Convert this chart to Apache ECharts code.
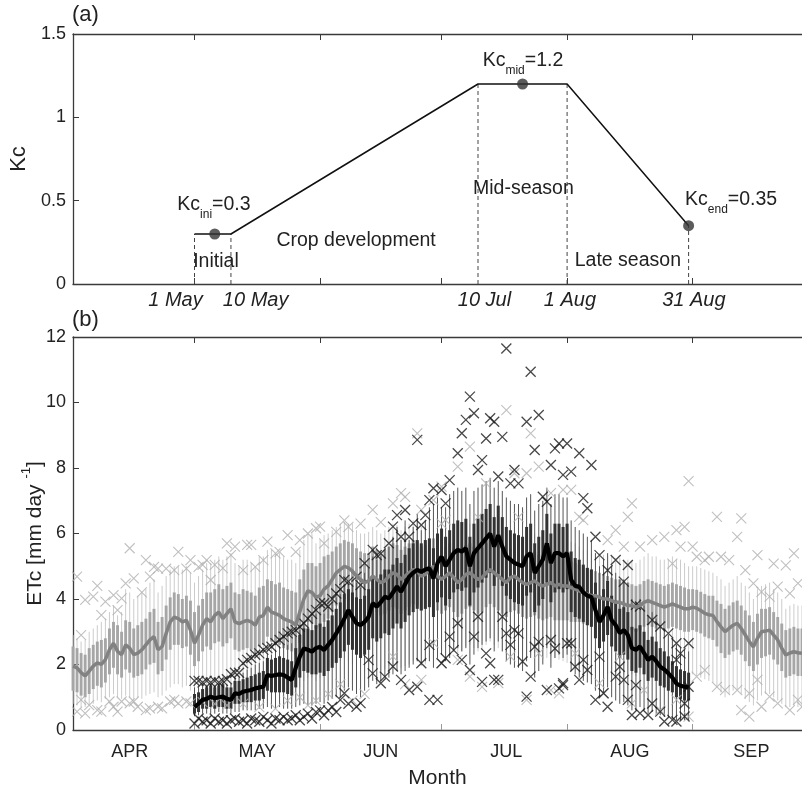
<!DOCTYPE html>
<html><head><meta charset="utf-8">
<script src="https://cdn.jsdelivr.net/npm/echarts@6/dist/echarts.min.js"></script>
<style>html,body{margin:0;padding:0;background:#fff}#c{width:802px;height:791px}</style>
</head><body><div id="c"></div>
<script>
// ---------- Panel (a): crop coefficient curve (x = days since 1 Apr) ----------
const kcDays = [30, 39, 100, 122, 152];
const kcVals = [0.3, 0.3, 1.2, 1.2, 0.35];
const kcDotDays = [35, 111, 152];
const kcDotVals = [0.3, 1.2, 0.35];
const kcSubs = ['ini', 'mid', 'end'];
const kcSubVals = ['0.3', '1.2', '0.35'];
const stageNames = ['Initial', 'Crop development', 'Mid-season', 'Late season'];
const dateNames = ['1 May', '10 May', '10 Jul', '1 Aug', '31 Aug'];

// ---------- Axis ticks ----------
const monthStartDays = [30, 61, 91, 122, 153];
const monthMidDays = [14, 45.5, 76, 107, 137.5, 167.5];
const monthNames = ['APR', 'MAY', 'JUN', 'JUL', 'AUG', 'SEP'];

// ---------- Panel (b): grey series (reference), days 0..180 ----------
const gStart = 0;
const gMed = [1.95,1.9,1.75,1.65,1.8,1.95,2.05,2.0,2.15,2.45,
 2.65,2.4,2.3,2.6,2.5,2.3,2.35,2.45,2.6,2.75,
 2.85,2.45,2.55,2.95,3.3,3.45,3.4,3.3,3.35,3.05,
 2.65,2.9,3.2,3.4,3.3,3.5,3.6,3.4,3.55,3.7,
 3.3,3.25,3.3,3.35,3.3,3.2,3.45,3.5,3.75,3.6,
 3.55,3.5,3.4,3.35,3.3,3.2,3.6,4.0,4.25,4.2,
 4.05,4.1,4.3,4.4,4.6,4.8,4.9,5.0,4.95,4.85,
 4.7,4.6,4.5,4.55,4.7,4.6,4.5,4.55,4.7,4.8,
 4.75,4.6,4.7,4.8,4.9,4.85,4.7,4.75,4.9,5.0,
 4.7,4.6,4.7,4.8,4.65,4.5,4.6,4.75,4.8,4.7,
 4.6,4.65,4.8,4.9,4.8,4.7,4.6,4.5,4.65,4.7,
 4.6,4.5,4.45,4.5,4.55,4.45,4.4,4.45,4.5,4.4,
 4.45,4.4,4.4,4.35,4.3,4.25,4.2,4.15,4.1,4.1,
 4.05,4.0,4.0,3.95,3.9,3.9,3.85,3.8,3.8,3.75,
 3.8,3.9,3.95,3.9,3.85,3.8,3.75,3.8,3.85,3.8,
 3.75,3.7,3.7,3.75,3.72,3.65,3.56,3.52,3.5,3.31,
 3.15,3.0,3.1,3.2,3.26,3.1,2.9,2.7,2.54,2.8,
 3.0,3.02,3.05,2.9,2.75,2.5,2.29,2.35,2.39,2.36,
 2.34];
const gQ3 = [2.55,2.5,2.35,2.3,2.5,2.6,2.7,2.75,2.8,3.1,
 3.3,3.2,3.0,3.35,3.3,3.1,3.2,3.3,3.4,3.6,
 3.7,3.3,3.45,3.8,4.05,4.2,4.15,4.0,4.1,3.95,
 3.6,3.8,4.0,4.2,4.2,4.3,4.45,4.3,4.4,4.5,
 4.2,4.15,4.3,4.25,4.2,4.1,4.35,4.4,4.6,4.55,
 4.45,4.5,4.35,4.3,4.25,4.2,4.6,4.9,5.1,5.1,
 5.0,5.1,5.3,5.35,5.45,5.6,5.7,5.8,5.75,5.7,
 5.55,5.45,5.4,5.4,5.6,5.5,5.4,5.5,5.6,5.7,
 5.65,5.5,5.6,5.7,5.8,5.75,5.6,5.65,5.8,5.85,
 5.6,5.5,5.6,5.7,5.55,5.4,5.5,5.65,5.7,5.6,
 5.5,5.55,5.7,5.8,5.7,5.6,5.5,5.4,5.55,5.6,
 5.5,5.4,5.35,5.4,5.45,5.35,5.3,5.35,5.4,5.3,
 5.3,5.25,5.2,5.15,5.1,5.05,5.0,4.95,4.9,4.85,
 4.8,4.75,4.7,4.65,4.6,4.6,4.55,4.5,4.45,4.4,
 4.45,4.55,4.6,4.55,4.5,4.45,4.4,4.45,4.5,4.45,
 4.4,4.35,4.3,4.3,4.28,4.22,4.15,4.1,4.1,3.95,
 3.85,3.7,3.8,3.9,3.95,3.8,3.65,3.5,3.3,3.55,
 3.7,3.7,3.75,3.6,3.45,3.25,3.05,3.1,3.15,3.1,
 3.1];
const gQ1 = [1.2,1.15,1.05,1.0,1.1,1.25,1.35,1.3,1.45,1.7,
 1.9,1.7,1.6,1.85,1.75,1.6,1.65,1.7,1.85,2.0,
 2.05,1.7,1.8,2.15,2.45,2.6,2.6,2.5,2.55,2.3,
 1.95,2.1,2.4,2.55,2.45,2.65,2.7,2.55,2.65,2.8,
 2.45,2.4,2.45,2.5,2.45,2.35,2.55,2.6,2.85,2.7,
 2.65,2.6,2.5,2.45,2.4,2.3,2.65,3.05,3.3,3.25,
 3.1,3.15,3.3,3.4,3.6,3.8,3.9,4.0,3.95,3.85,
 3.7,3.6,3.5,3.55,3.7,3.6,3.5,3.55,3.65,3.75,
 3.7,3.55,3.65,3.75,3.85,3.8,3.65,3.7,3.85,3.95,
 3.65,3.55,3.65,3.75,3.6,3.45,3.55,3.7,3.75,3.65,
 3.55,3.6,3.75,3.85,3.75,3.65,3.55,3.45,3.6,3.65,
 3.55,3.45,3.4,3.45,3.5,3.4,3.35,3.4,3.45,3.35,
 3.35,3.35,3.35,3.3,3.3,3.3,3.25,3.2,3.2,3.2,
 3.15,3.15,3.15,3.1,3.1,3.1,3.05,3.05,3.05,3.0,
 3.05,3.15,3.2,3.15,3.1,3.1,3.05,3.1,3.15,3.1,
 3.05,3.0,3.0,3.05,3.0,2.95,2.85,2.8,2.75,2.55,
 2.35,2.2,2.3,2.4,2.45,2.3,2.1,1.95,1.8,2.0,
 2.2,2.25,2.3,2.15,2.0,1.8,1.6,1.65,1.7,1.65,
 1.65];
const gHi = [2.9,2.8,2.7,2.75,3.0,3.1,3.2,3.3,3.4,3.6,
 3.8,3.5,3.6,4.3,4.2,4.0,4.1,4.2,4.3,4.5,
 4.6,4.2,4.4,4.7,4.9,5.0,5.0,4.9,5.0,4.8,
 4.5,4.7,4.9,5.1,5.1,5.2,5.3,5.2,5.3,5.4,
 5.1,5.0,5.2,5.2,5.1,5.0,5.3,5.3,5.5,5.5,
 5.4,5.4,5.3,5.2,5.2,5.1,5.5,5.8,6.0,6.0,
 5.7,5.8,5.95,6.0,6.1,6.2,6.3,6.35,6.3,6.3,
 6.1,6.0,6.0,6.05,6.2,6.1,6.0,6.1,6.2,6.3,
 6.25,6.1,6.2,6.3,6.4,6.35,6.2,6.3,6.4,6.5,
 6.2,6.1,6.2,6.3,6.15,6.0,6.1,6.25,6.3,6.2,
 6.1,6.15,6.3,6.4,6.3,6.2,6.1,6.0,6.15,6.2,
 6.1,6.0,5.9,5.95,6.0,5.9,5.8,5.85,5.9,5.8,
 5.9,5.85,5.8,5.75,5.7,5.6,5.5,5.5,5.4,5.4,
 5.4,5.35,5.3,5.3,5.25,5.25,5.2,5.2,5.15,5.1,
 5.2,5.3,5.4,5.3,5.3,5.2,5.2,5.2,5.3,5.2,
 5.2,5.1,5.0,5.0,5.0,4.95,4.9,4.85,4.8,4.7,
 4.6,4.4,4.5,4.6,4.7,4.5,4.4,4.2,4.0,4.3,
 4.4,4.45,4.5,4.3,4.2,4.0,3.7,3.8,3.85,3.8,
 3.8];
const gLo = [0.8,0.75,0.7,0.7,0.75,0.8,0.9,0.85,0.95,1.0,
 1.1,1.0,0.95,1.05,1.0,0.95,1.0,0.95,1.05,1.1,
 1.15,1.0,1.05,1.2,1.3,1.4,1.4,1.3,1.35,1.2,
 0.9,1.0,1.1,1.2,1.15,1.25,1.3,1.2,1.25,1.3,
 1.1,1.1,1.15,1.2,1.15,1.1,1.2,1.25,1.35,1.3,
 1.25,1.2,1.2,1.15,1.1,1.1,1.3,1.5,1.6,1.6,
 1.5,1.6,1.7,1.8,1.9,2.0,2.1,2.2,2.1,2.0,
 1.9,1.9,1.8,1.85,1.95,1.9,1.8,1.85,1.95,2.0,
 2.0,1.9,1.95,2.0,2.1,2.1,1.95,2.0,2.1,2.2,
 2.5,2.4,2.5,2.6,2.5,2.35,2.4,2.55,2.6,2.5,
 2.4,2.45,2.6,2.7,2.6,2.5,2.4,2.3,2.45,2.5,
 2.4,2.35,2.25,2.3,2.35,2.25,2.2,2.2,2.25,2.2,
 2.15,2.1,2.05,2.0,1.95,1.9,1.85,1.8,1.8,1.75,
 1.7,1.7,1.7,1.7,1.7,1.7,1.7,1.7,1.7,1.65,
 1.7,1.8,1.85,1.8,1.75,1.75,1.7,1.75,1.8,1.75,
 1.7,1.65,1.65,1.7,1.65,1.6,1.55,1.5,1.45,1.3,
 1.15,1.0,1.1,1.2,1.25,1.1,0.95,0.85,0.75,0.9,
 1.05,1.1,1.1,1.0,0.9,0.8,0.7,0.7,0.75,0.7,
 0.7];
const gOutliers = [[1,4.68],[2,2.9],[3,3.97],[5,4.07],[6,4.4],[7,3.51],[8,3.92],[10,4.12],[11,3.66],[12,4.02],[13,4.48],[14,5.55],[15,4.63],[17,4.2],[18,5.19],[19,4.68],[20,4.98],[21,4.93],[23,4.93],[25,4.88],[26,5.44],[28,4.93],[29,5.19],[31,4.98],
 [1,0.56],[2,0.92],[3,0.51],[4,0.76],[6,0.61],[7,0.56],[9,0.87],[10,0.71],[11,0.56],[12,0.87],[14,0.81],[15,0.87],[16,0.71],[18,0.61],[19,0.66],[21,0.71],[22,0.66],[24,0.87],[25,0.92],[26,0.81],[28,0.87],[29,0.81],
 [32,5.04],[33,5.19],[34,4.58],[35,5.04],[37,4.94],[38,5.7],[39,5.34],[40,5.6],[42,4.88],[43,5.65],[44,5.65],[45,4.98],[47,5.19],[48,5.75],[50,5.39],[51,5.44],[53,5.95],[55,5.44],[56,5.8],[58,6.0],[60,6.16],[61,6.21],
 [32,0.85],[35,0.8],[38,0.75],[42,0.8],[46,0.7],[50,0.65],[53,0.9],[56,1.0],[58,0.75],[60,0.9],[63,1.1],[66,1.4],
 [62,5.7],[65,6.05],[67,6.4],[68,6.2],[71,6.3],[74,6.72],[76,6.35],[79,6.92],[81,7.23],[82,7.12],[85,9.06],[86,6.72],[89,7.02],[91,6.3],
 [69,0.9],[72,1.1],[79,2.24],[82,1.4],[86,1.53],[89,2.65],
 [91,7.43],[92,6.41],[95,8.04],[98,8.65],[100,6.5],[102,7.53],[107,9.77],[109,7.84],[110,6.5],[112,7.84],[113,9.06],[115,8.04],[118,7.23],[121,7.33],
 [91,2.04],[95,2.14],[98,1.63],[101,1.32],[105,1.43],[108,2.24],[112,0.92],[115,2.34],[118,1.22],[120,1.12],
 [123,7.33],[125,6.51],[126,6.41],[132,5.8],[134,6.1],[136,5.6],[137,6.51],[138,6.92],[140,5.6],[143,5.8],[146,5.9],[148,5.08],[149,6.1],[150,5.6],[151,6.2],[152,7.6],
 [124,2.34],[130,1.43],[131,1.12],[135,2.24],[138,0.81],[141,1.22],[145,0.61],[149,0.92],[152,0.41],
 [153,5.6],[154,5.29],[156,5.19],[157,5.29],[159,6.51],[160,5.29],[162,5.19],[164,5.9],[165,6.46],[166,4.88],[168,4.48],[169,5.34],[170,4.22],[172,4.07],[173,5.08],[174,4.38],[176,5.03],[177,4.17],[178,5.39],[179,4.48],
 [154,1.63],[156,1.83],[159,1.32],[161,1.22],[164,1.22],[165,0.61],[167,1.12],[169,1.53],[170,0.71],[172,1.02],[174,0.81],[177,0.61],[179,0.92],[180,0.71],[167,0.41]];

// ---------- Panel (b): black series (crop ETc), days 30..152 ----------
const bStart = 30;
const bMed = [0.7,0.8,0.92,0.95,1.02,0.97,1.0,1.02,0.95,0.92,
 1.12,1.1,1.17,1.2,1.22,1.27,1.3,1.32,1.68,1.65,
 1.68,1.7,1.68,1.6,1.53,1.9,2.24,2.49,2.45,2.39,
 2.5,2.54,2.44,2.6,2.75,2.95,3.15,3.4,3.66,3.45,
 3.26,3.2,3.3,3.46,3.87,3.77,3.9,4.07,4.02,4.2,
 4.38,4.22,4.45,4.68,4.8,4.89,4.83,4.9,4.94,4.63,
 5.1,5.29,5.0,5.2,5.4,5.5,5.45,5.55,5.0,5.4,
 5.55,5.7,5.85,6.0,5.6,5.95,5.6,5.3,5.2,5.1,
 5.05,5.0,5.3,5.4,4.8,5.0,5.2,5.7,5.1,5.4,
 5.4,5.3,5.4,4.58,4.4,4.37,4.2,4.1,4.06,3.66,
 3.3,3.5,3.76,3.35,3.2,2.96,3.05,2.9,2.5,2.45,
 2.55,2.35,2.14,2.24,2.1,1.93,1.85,1.73,1.6,1.42,
 1.35,1.32,1.3];
const bQ3 = [1.1,1.15,1.25,1.3,1.35,1.3,1.35,1.4,1.3,1.3,
 1.5,1.5,1.55,1.6,1.65,1.7,1.75,1.8,2.2,2.15,
 2.2,2.25,2.2,2.15,2.1,2.5,2.9,3.1,3.1,3.05,
 3.2,3.25,3.15,3.35,3.5,3.7,3.9,4.15,4.3,4.2,
 4.05,4.0,4.1,4.3,4.7,4.6,4.75,4.9,4.9,5.05,
 5.25,5.1,5.35,5.55,5.7,5.8,5.7,5.8,5.85,5.55,
 6.0,6.15,5.9,6.1,6.3,6.4,6.35,6.45,5.9,6.3,
 6.45,6.6,6.75,6.9,6.5,6.85,6.5,6.2,6.1,6.0,
 5.95,5.9,6.2,6.3,5.7,5.9,6.1,6.6,6.0,6.3,
 6.3,6.2,6.3,5.45,5.25,5.2,5.05,4.95,4.9,4.5,
 4.1,4.3,4.55,4.1,3.95,3.7,3.75,3.6,3.15,3.1,
 3.2,3.0,2.75,2.85,2.7,2.5,2.4,2.25,2.1,1.95,
 1.85,1.8,1.75];
const bQ1 = [0.5,0.55,0.65,0.65,0.7,0.65,0.7,0.7,0.65,0.65,
 0.8,0.8,0.85,0.85,0.85,0.9,0.9,0.95,1.2,1.15,
 1.15,1.15,1.15,1.1,1.05,1.3,1.6,1.8,1.75,1.7,
 1.7,1.75,1.65,1.8,1.9,2.05,2.2,2.4,2.6,2.45,
 2.3,2.2,2.3,2.45,2.8,2.7,2.8,2.95,2.9,3.1,
 3.25,3.1,3.3,3.5,3.6,3.7,3.65,3.7,3.75,3.45,
 3.9,4.05,3.8,4.0,4.2,4.3,4.25,4.35,3.8,4.2,
 4.35,4.5,4.65,4.8,4.4,4.75,4.4,4.1,4.0,3.9,
 3.85,3.8,4.1,4.2,3.6,3.8,4.0,4.5,3.9,4.2,
 4.3,4.2,4.3,3.6,3.45,3.4,3.3,3.2,3.15,2.8,
 2.5,2.7,2.9,2.55,2.4,2.2,2.3,2.15,1.8,1.75,
 1.9,1.7,1.5,1.6,1.5,1.35,1.3,1.2,1.15,1.0,
 0.95,0.9,0.9];
const bHi = [1.3,1.3,1.35,1.35,1.4,1.35,1.4,1.45,1.4,1.4,
 1.6,1.6,1.75,1.85,1.9,2.0,2.05,2.1,2.3,2.3,
 2.45,2.55,2.6,2.6,2.65,2.85,3.05,3.25,3.35,3.45,
 3.55,3.6,3.55,3.7,3.9,4.05,4.15,4.4,4.45,4.45,
 4.5,4.35,4.8,4.95,5.3,5.2,5.3,5.5,5.6,5.9,
 6.2,5.8,6.4,5.8,6.2,6.6,6.1,6.4,6.8,6.9,
 7.1,6.8,6.8,7.2,7.3,7.4,7.3,7.4,6.9,7.3,
 7.4,7.5,7.6,7.7,7.4,7.6,7.3,7.1,7.0,6.9,
 6.9,6.8,7.1,7.2,6.7,6.9,7.0,7.4,6.9,7.2,
 7.2,7.1,7.1,6.4,6.2,6.1,6.0,5.9,5.8,5.4,
 5.0,5.2,5.4,5.0,4.8,4.6,4.6,4.5,4.0,3.9,
 4.0,3.8,3.5,3.6,3.4,3.2,3.1,2.9,2.8,2.6,
 2.5,2.45,2.4];
const bLo = [0.42,0.45,0.5,0.5,0.5,0.5,0.55,0.5,0.5,0.5,
 0.55,0.55,0.6,0.6,0.6,0.6,0.65,0.65,0.7,0.65,
 0.65,0.7,0.65,0.65,0.65,0.7,0.75,0.8,0.75,0.75,
 0.8,0.85,0.8,0.9,0.95,1.0,1.0,1.2,1.3,1.2,
 1.1,1.0,1.2,1.3,1.5,1.4,1.5,1.6,1.6,1.7,
 1.8,1.7,1.8,1.9,2.0,2.1,2.0,2.1,2.1,1.9,
 2.2,2.3,2.1,2.2,2.4,2.5,2.4,2.5,2.0,2.3,
 2.5,2.6,2.7,2.8,2.4,2.7,2.4,2.1,2.0,1.9,
 1.9,1.8,2.1,2.2,1.6,1.8,2.0,2.5,1.9,2.2,
 2.3,2.2,2.3,1.8,1.7,1.6,1.5,1.45,1.4,1.2,
 1.0,1.1,1.3,1.0,0.9,0.8,0.85,0.75,0.6,0.6,
 0.7,0.6,0.5,0.55,0.5,0.45,0.4,0.4,0.35,0.3,
 0.3,0.3,0.3];
const bOutliers = [[30,1.5],[31,1.5],[32,1.45],[33,1.5],[34,1.45],[35,1.5],[36,1.45],[37,1.5],[38,1.55],[39,1.7],[40,1.75],[41,1.75],[42,2.04],[43,2.14],[44,2.2],[45,2.3],[46,2.34],[47,2.45],[48,2.5],[49,2.54],[50,2.65],[51,2.75],[52,2.85],[53,2.95],[54,3.0],[55,3.05],[56,3.15],[57,3.26],[58,3.4],[59,3.55],[60,3.66],[61,3.87],[62,3.87],[63,3.77],[64,4.0],[65,4.17],[66,4.3],[67,4.58],[68,4.53],[70,4.68],[71,4.43],[72,5.09],[74,5.5],[75,5.34],[76,5.39],[78,5.7],[79,6.21],[80,6.56],[81,5.9],[82,6.72],[83,5.9],[84,6.31],[85,8.86],[86,6.26],[87,6.56],[88,7.02],[89,7.38],
 [30,0.2],[31,0.35],[32,0.25],[33,0.3],[34,0.2],[35,0.35],[36,0.25],[37,0.3],[38,0.2],[39,0.3],[40,0.35],[41,0.25],[42,0.3],[43,0.2],[44,0.35],[45,0.3],[46,0.25],[47,0.4],[48,0.3],[49,0.2],[50,0.35],[51,0.3],[52,0.4],[53,0.3],[54,0.35],[55,0.45],[56,0.3],[57,0.4],[58,0.5],[59,0.35],[60,0.55],[61,0.6],[62,0.45],[63,0.6],[64,0.7],[65,0.55],[66,0.92],[67,1.12],[68,0.8],[70,0.71],[71,0.82],[73,2.14],[74,1.73],[76,1.43],[77,1.63],[79,1.94],[81,1.53],[83,1.22],[85,1.32],[86,2.04],[88,2.6],[88,0.92],[90,0.92],[91,2.04],
 [91,7.33],[92,6.92],[93,7.63],[95,8.45],[96,9.06],[97,9.47],[98,10.18],[99,9.67],[100,7.94],[101,8.24],[102,8.9],[103,9.52],[104,9.41],[105,7.74],[106,8.95],[107,11.65],[108,7.53],[109,7.94],[110,7.53],[112,9.41],[113,10.94],[114,8.55],[115,9.62],[116,7.12],[117,6.97],[118,8.09],[119,8.6],[120,8.75],[121,7.79],[122,8.75],
 [92,2.19],[93,2.85],[94,2.44],[95,3.26],[96,2.14],[98,1.83],[99,2.85],[100,3.46],[101,1.47],[102,2.34],[103,2.04],[104,1.53],[105,1.53],[106,3.46],[107,2.95],[108,2.6],[109,3.05],[110,2.95],[111,2.09],[112,1.02],[113,1.63],[114,2.54],[115,2.69],[117,1.22],[118,2.75],[119,2.49],[120,1.27],[121,1.37],[122,2.65],
 [123,7.89],[125,8.45],[126,7.08],[127,6.77],[128,8.09],[129,5.9],[130,5.34],[132,4.88],[134,5.19],[136,4.53],[137,5.04],[139,3.82],[140,3.77],[143,3.36],[145,3.16],[147,2.95],[149,2.65],[150,2.34],[152,2.65],[149,2.14],
 [121,1.43],[123,2.65],[124,1.93],[125,1.53],[126,2.14],[127,1.83],[130,2.24],[129,0.92],[131,1.12],[132,0.71],[134,1.63],[135,1.93],[136,1.53],[137,0.92],[138,0.46],[139,1.37],[140,0.51],[142,0.46],[143,0.81],[145,0.56],[146,0.26],[148,0.31],[149,0.26],[151,0.81],[151,0.41],[152,1.32]];

// ---------- build ----------
const FONT = '"Liberation Sans", Arial, Helvetica, sans-serif';
const TXT = '#222';
const AX = '#3a3a3a';

function rows(start, lo, q1, med, q3, hi) {
  return med.map((m, i) => [start + i, lo[i], q1[i], m, q3[i], hi[i]]);
}
function boxRender(whiskerColor, boxColor, boxW) {
  return function (params, api) {
    const x = api.value(0);
    const pl = api.coord([x, api.value(1)]);
    const p1 = api.coord([x, api.value(2)]);
    const p3 = api.coord([x, api.value(4)]);
    const ph = api.coord([x, api.value(5)]);
    return {
      type: 'group', children: [
        { type: 'line', shape: { x1: pl[0], y1: pl[1], x2: ph[0], y2: ph[1] }, style: { stroke: whiskerColor, lineWidth: 1 } },
        { type: 'rect', shape: { x: p3[0] - boxW / 2, y: p3[1], width: boxW, height: p1[1] - p3[1] }, style: { fill: boxColor } }
      ]
    };
  };
}
const crossPath = 'path://M0 0L10 10M10 0L0 10';

// annotation layout (data coordinates of panel a)
const kcText = (i) => '{m|Kc}{s|' + kcSubs[i] + '}{m|=' + kcSubVals[i] + '}';
const annots = [
  { t: kcText(0), x: 34.8, y: 0.46 },
  { t: kcText(1), x: 111.1, y: 1.32 },
  { t: kcText(2), x: 162.5, y: 0.488 },
  { t: '{m|' + stageNames[0] + '}', x: 35.3, y: 0.114 },
  { t: '{m|' + stageNames[1] + '}', x: 69.9, y: 0.24 },
  { t: '{m|' + stageNames[2] + '}', x: 111.2, y: 0.552 },
  { t: '{m|' + stageNames[3] + '}', x: 137.0, y: 0.12 },
  { t: '{d|' + dateNames[0] + '}', x: 25.3, y: -0.098 },
  { t: '{d|' + dateNames[1] + '}', x: 45.1, y: -0.098 },
  { t: '{d|' + dateNames[2] + '}', x: 101.6, y: -0.098 },
  { t: '{d|' + dateNames[3] + '}', x: 122.7, y: -0.098 },
  { t: '{d|' + dateNames[4] + '}', x: 153.3, y: -0.098 }
];

const xBase = {
  type: 'value', min: 0, max: 180,
  axisLine: { show: true, onZero: false, lineStyle: { color: AX, width: 1.3 } },
  axisTick: { show: true, inside: true, length: 6, customValues: monthStartDays, lineStyle: { color: AX } },
  axisLabel: { show: false },
  splitLine: { show: false }
};

const option = {
  animation: false,
  backgroundColor: '#fff',
  textStyle: { fontFamily: FONT, color: TXT },
  title: [
    { text: '(a)', left: 72, top: 4, padding: 0, textStyle: { fontSize: 22, fontWeight: 'normal', fontFamily: FONT, color: TXT } },
    { text: '(b)', left: 72, top: 309, padding: 0, textStyle: { fontSize: 22, fontWeight: 'normal', fontFamily: FONT, color: TXT } }
  ],
  grid: [
    { left: 73, right: 0, top: 34, height: 250 },
    { left: 73, right: 0, top: 337, height: 393 }
  ],
  xAxis: [
    Object.assign({}, xBase, { gridIndex: 0, position: 'bottom' }),
    Object.assign({}, xBase, { gridIndex: 0, position: 'top' }),
    Object.assign({}, xBase, {
      gridIndex: 1, position: 'bottom',
      axisTick: { show: true, inside: true, length: 6, customValues: monthStartDays, lineStyle: { color: '#999' } },
      axisLabel: {
        show: true, customValues: monthMidDays, margin: 13, fontSize: 18, fontFamily: FONT, color: TXT,
        formatter: (v) => { const k = monthMidDays.indexOf(v); return k >= 0 ? monthNames[k] : ''; }
      },
      name: 'Month', nameLocation: 'middle', nameGap: 38,
      nameTextStyle: { fontSize: 21, fontFamily: FONT, color: TXT }
    }),
    Object.assign({}, xBase, { gridIndex: 1, position: 'top' })
  ],
  yAxis: [
    {
      gridIndex: 0, type: 'value', min: 0, max: 1.5, interval: 0.5,
      axisLine: { show: true, onZero: false, lineStyle: { color: AX, width: 1.3 } },
      axisTick: { show: true, inside: true, length: 6, lineStyle: { color: AX } },
      axisLabel: { fontSize: 18, margin: 7, fontFamily: FONT, color: TXT },
      splitLine: { show: false },
      name: 'Kc', nameLocation: 'middle', nameGap: 39,
      nameTextStyle: { fontSize: 22, fontFamily: FONT, color: TXT }
    },
    {
      gridIndex: 1, type: 'value', min: 0, max: 12, interval: 2,
      axisLine: { show: true, onZero: false, lineStyle: { color: AX, width: 1.3 } },
      axisTick: { show: true, inside: true, length: 6, lineStyle: { color: AX } },
      axisLabel: { fontSize: 18, margin: 7, fontFamily: FONT, color: TXT },
      splitLine: { show: false },
      name: '{m|ETc [mm day }{s|-1}{m|]}', nameLocation: 'middle', nameGap: 27,
      nameMoveOverlap: false,
      nameTextStyle: {
        fontFamily: FONT, color: TXT,
        rich: {
          m: { fontSize: 21, fontFamily: FONT, color: TXT, lineHeight: 26, verticalAlign: 'bottom' },
          s: { fontSize: 13, fontFamily: FONT, color: TXT, lineHeight: 14, verticalAlign: 'top' }
        }
      }
    }
  ],
  series: [
    // panel (a)
    {
      type: 'custom', xAxisIndex: 0, yAxisIndex: 0, silent: true,
      data: kcDays.map((d, i) => [d, kcVals[i]]),
      encode: { x: 0, y: 1 },
      renderItem: (params, api) => {
        const a = api.coord([api.value(0), 0]);
        const b = api.coord([api.value(0), api.value(1)]);
        return { type: 'line', shape: { x1: a[0], y1: a[1], x2: b[0], y2: b[1] }, style: { stroke: '#444', lineWidth: 1, lineDash: [4, 3] } };
      }
    },
    {
      type: 'line', xAxisIndex: 0, yAxisIndex: 0, silent: true, showSymbol: false,
      data: kcDays.map((d, i) => [d, kcVals[i]]),
      lineStyle: { color: '#111', width: 1.5 }
    },
    {
      type: 'scatter', xAxisIndex: 0, yAxisIndex: 0, silent: true, symbolSize: 11,
      data: kcDotDays.map((d, i) => [d, kcDotVals[i]]),
      itemStyle: { color: '#333' }, z: 5
    },
    {
      type: 'custom', xAxisIndex: 0, yAxisIndex: 0, silent: true, clip: false,
      data: annots.map(a => [a.x, a.y]),
      encode: { x: 0, y: 1 },
      renderItem: (params, api) => {
        const p = api.coord([api.value(0), api.value(1)]);
        const a = annots[params.dataIndex];
        return {
          type: 'text', x: p[0], y: p[1],
          style: {
            text: a.t, align: 'center', verticalAlign: 'middle', fill: TXT, fontFamily: FONT, fontSize: 19,
            rich: {
              m: { fontSize: 19.5, fontFamily: FONT, fill: TXT, lineHeight: 26, verticalAlign: 'top' },
              s: { fontSize: 12, fontFamily: FONT, fill: TXT, lineHeight: 12, verticalAlign: 'bottom' },
              d: { fontSize: 20, fontFamily: FONT, fontStyle: 'italic', fill: TXT }
            }
          }
        };
      }
    },
    // panel (b) grey
    {
      type: 'custom', xAxisIndex: 2, yAxisIndex: 1, silent: true,
      data: rows(gStart, gLo, gQ1, gMed, gQ3, gHi),
      encode: { x: 0, y: [1, 2, 3, 4, 5] },
      renderItem: boxRender('#cccccc', '#a6a6a6', 2.9)
    },
    {
      type: 'line', xAxisIndex: 2, yAxisIndex: 1, silent: true, showSymbol: false,
      data: gMed.map((v, i) => [gStart + i, v]),
      lineStyle: { color: '#828282', width: 3.5 }
    },
    {
      type: 'scatter', xAxisIndex: 2, yAxisIndex: 1, silent: true,
      symbol: crossPath, symbolSize: 10, data: gOutliers,
      itemStyle: { color: 'rgba(0,0,0,0)', borderColor: '#b0b0b0', borderWidth: 1.1 }
    },
    // panel (b) black
    {
      type: 'custom', xAxisIndex: 2, yAxisIndex: 1, silent: true,
      data: rows(bStart, bLo, bQ1, bMed, bQ3, bHi),
      encode: { x: 0, y: [1, 2, 3, 4, 5] },
      renderItem: boxRender('#555555', '#333333', 3)
    },
    {
      type: 'scatter', xAxisIndex: 2, yAxisIndex: 1, silent: true,
      symbol: crossPath, symbolSize: 10, data: bOutliers,
      itemStyle: { color: 'rgba(0,0,0,0)', borderColor: '#1a1a1a', borderWidth: 1.3 }
    },
    {
      type: 'line', xAxisIndex: 2, yAxisIndex: 1, silent: true, showSymbol: false,
      data: bMed.map((v, i) => [bStart + i, v]),
      lineStyle: { color: '#000', width: 4.2 }, z: 4
    }
  ]
};

const chart = echarts.init(document.getElementById('c'), null, { renderer: 'canvas' });
chart.setOption(option);
</script></body></html>
